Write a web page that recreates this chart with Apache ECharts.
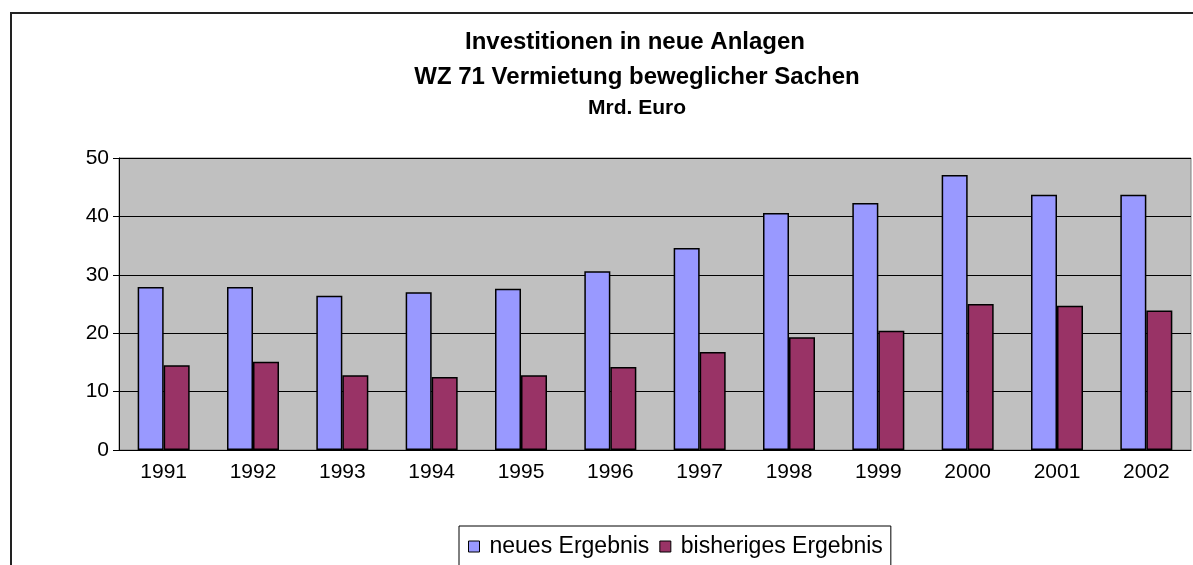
<!DOCTYPE html>
<html>
<head>
<meta charset="utf-8">
<script src="https://cdn.jsdelivr.net/npm/echarts@6/dist/echarts.min.js"></script>
<style>
  html, body { margin: 0; padding: 0; background: #fff; }
  #main { width: 1193px; height: 565px; }
</style>
</head>
<body>
<div id="main"></div>
<script>
// Jahre und Werte (Mrd. Euro)
var jahre = ['1991', '1992', '1993', '1994', '1995', '1996', '1997', '1998', '1999', '2000', '2001', '2002'];
var neuesErgebnis = [27.9, 27.9, 26.4, 27.0, 27.6, 30.6, 34.6, 40.6, 42.3, 47.1, 43.7, 43.7];
var bisherigesErgebnis = [14.5, 15.1, 12.8, 12.5, 12.8, 14.2, 16.8, 19.3, 20.4, 25.0, 24.7, 23.9];

var font = 'Liberation Sans, Arial, sans-serif';
var chart = echarts.init(document.getElementById('main'));

var option = {
  animation: false,
  textStyle: { fontFamily: font },
  title: [
    { text: 'Investitionen in neue Anlagen', left: 630, top: 25, textAlign: 'center',
      textStyle: { fontSize: 24, fontWeight: 'bold', color: '#000', fontFamily: font } },
    { text: 'WZ 71 Vermietung beweglicher Sachen', left: 632, top: 60, textAlign: 'center',
      textStyle: { fontSize: 24, fontWeight: 'bold', color: '#000', fontFamily: font } },
    { text: 'Mrd. Euro', left: 632, top: 93, textAlign: 'center',
      textStyle: { fontSize: 21, fontWeight: 'bold', color: '#000', fontFamily: font } }
  ],
  graphic: [{
    type: 'rect', z: -1, silent: true,
    shape: { x: 11, y: 13, width: 1300, height: 700 },
    style: { fill: 'none', stroke: '#222', lineWidth: 2 }
  }],
  legend: {
    left: 459, top: 526,
    padding: [9, 8, 30, 9],
    borderColor: '#000', borderWidth: 1,
    itemWidth: 11, itemHeight: 11, itemGap: 10,
    icon: 'rect',
    itemStyle: { borderColor: '#000', borderWidth: 1 },
    textStyle: { fontSize: 23, color: '#000', fontFamily: font, padding: [0, 0, 0, 5] },
    data: ['neues Ergebnis', 'bisheriges Ergebnis']
  },
  grid: {
    left: 119, top: 158, right: 2, bottom: 115,
    show: true, backgroundColor: '#C0C0C0', borderColor: '#808080', borderWidth: 1
  },
  xAxis: {
    type: 'category', data: jahre,
    axisLine: { lineStyle: { color: '#000', width: 1 } },
    axisTick: { length: 7, lineStyle: { color: '#000' } },
    axisLabel: { fontSize: 21, color: '#000', margin: 12, fontFamily: font }
  },
  yAxis: {
    type: 'value', min: 0, max: 50, interval: 10,
    axisLine: { show: true, lineStyle: { color: '#000', width: 1 } },
    axisTick: { show: true, length: 6, lineStyle: { color: '#000' } },
    axisLabel: { fontSize: 21, color: '#000', margin: 10, fontFamily: font },
    splitLine: { lineStyle: { color: '#000', width: 1 } }
  },
  series: [
    { name: 'neues Ergebnis', type: 'bar', data: neuesErgebnis, barWidth: 26, barGap: '0%',
      itemStyle: { color: '#9999FF', borderColor: '#000', borderWidth: 1.5 } },
    { name: 'bisheriges Ergebnis', type: 'bar', data: bisherigesErgebnis, barWidth: 26, barGap: '0%',
      itemStyle: { color: '#993366', borderColor: '#000', borderWidth: 1.5 } }
  ]
};

chart.setOption(option);
</script>
</body>
</html>
